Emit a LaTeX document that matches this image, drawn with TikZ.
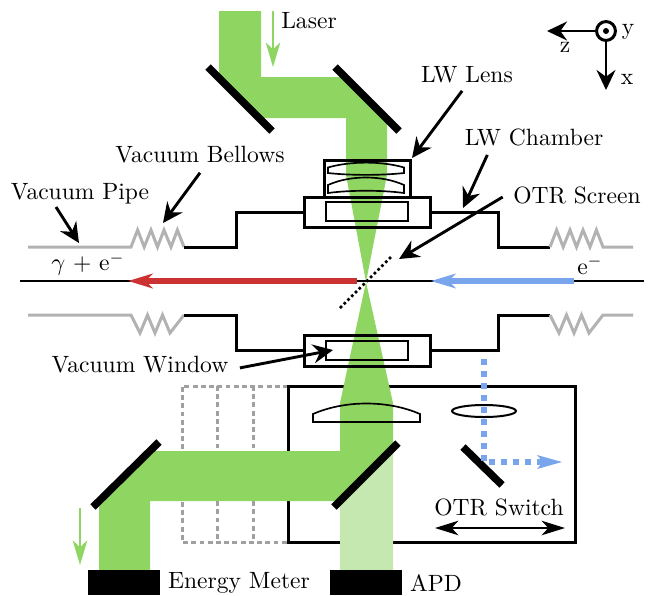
\documentclass[tikz,border=0pt]{standalone}
\usepackage{xcolor}
\usetikzlibrary{arrows.meta}
\definecolor{beam}{HTML}{8FD562}
\definecolor{beamlight}{HTML}{C5E8B0}
\definecolor{redline}{HTML}{CC3232}
\definecolor{blueline}{HTML}{78A5EC}
\definecolor{pipegray}{HTML}{B2B2B2}
\definecolor{dashgray}{HTML}{A0A0A0}
\tikzset{
  wall/.style={line width=1.35pt},
  thin wall/.style={line width=0.75pt},
  pipe/.style={line width=1.35pt, pipegray},
  ghost/.style={line width=1.35pt, dashgray, dash pattern=on 2.2pt off 1.5pt},
  mirror/.style={line width=3.4pt},
  label/.style={inner sep=1pt, font=\fontsize{10.6}{12}\selectfont},
  pointer/.style={line width=1.3pt, -{Stealth[length=9pt,width=8.5pt,inset=3pt]}},
  flow/.style={line width=2.7pt, -{Stealth[length=11pt,width=6.5pt,inset=3pt]}},
  hint/.style={line width=1.2pt, beam, -{Stealth[length=11pt,width=6.5pt,inset=3pt]}},
  switcharrow/.style={line width=1.1pt, {Stealth[length=10.5pt,width=6.5pt,inset=3pt]}-{Stealth[length=10.5pt,width=6.5pt,inset=3pt]}},
}
\begin{document}
\begin{tikzpicture}[x=0.45pt,y=-0.45pt]
\useasboundingbox (0,0) rectangle (652,595);
% box and its old positions
\draw[ghost] (288,386) -- (182,386) -- (182,542) -- (288,542);
\draw[ghost] (217,386) -- (217,542);
\draw[ghost] (253,386) -- (253,542);
\draw[wall] (288,386) rectangle (575,542);
% beams
\fill[beam] (219,11) -- (261,11) -- (261,77) -- (345,77) -- (387,119) -- (387,175) -- (366,282)
  -- (346,175) -- (346,118) -- (259,118) -- (219,78) -- cycle;
\fill[beamlight] (340,501) -- (393,448) -- (393,570) -- (340,570) -- cycle;
\fill[beam] (366,282) -- (393,403) -- (393,448) -- (340,501) -- (150,501) -- (150,570) -- (99,570)
  -- (99,501) -- (149,451) -- (340,451) -- (340,403) -- cycle;
% beam axis
\node[label] (meterlabel) at (239,583) {Energy Meter};
\node[fill, minimum width=32.4pt, minimum height=11.2pt, inner sep=0pt] (meter) at (124,582.5) {};
\node[fill, minimum width=32.4pt, minimum height=11.2pt, inner sep=0pt] (apd) at (366,582.5) {};
\node[label] (apdlabel) at (436,583) {APD};
\coordinate (axisL) at (20,281);
\coordinate (axisR) at (644,281);
\draw[line width=0.6pt] (axisL) -- (axisR);
\coordinate (redS) at (357,281);
\coordinate (redE) at (128,281);
\coordinate (blueS) at (574,281);
\coordinate (blueE) at (431,281);
\draw[flow, redline] (redS) -- (redE);
\draw[flow, blueline] (blueS) -- (blueE);
\draw[line width=1.2pt, dash pattern=on 1.2pt off 1.2pt] (340,308) -- (392,256);
% pipe upper
\draw[pipe] (28,247) -- (131,247) -- (137.6,230) -- (144.2,247) -- (151,230) -- (157.5,247) -- (164,230) -- (171,247) -- (177.4,230) -- (184,247);
\draw[wall] (184,247) -- (236,247) -- (236,212) -- (304,212);
\draw[wall] (430,212) -- (498,212) -- (498,247) -- (550,247);
\draw[pipe] (550,247) -- (556.6,230) -- (563.2,247) -- (570,230) -- (576.5,247) -- (583,230) -- (590,247) -- (596.4,230) -- (603,247) -- (633,247);
% pipe lower
\draw[pipe] (28,315) -- (131,315) -- (140,333) -- (147.5,315) -- (155,333) -- (162.5,315) -- (170,333) -- (177,324) -- (184,315);
\draw[wall] (184,315) -- (236,315) -- (236,350) -- (304,350);
\draw[wall] (430,350) -- (498,350) -- (498,315) -- (550,315);
\draw[pipe] (550,315) -- (559,333) -- (566.5,315) -- (574,333) -- (581.5,315) -- (589,333) -- (603,315) -- (633,315);
% chambers
\draw[wall] (304,197) rectangle (430,227);
\draw[thin wall] (326,202) rectangle (408,221);
\draw[wall] (304,335) rectangle (430,366);
\draw[thin wall] (326,341) rectangle (408,360);
% lens mount
\draw[wall] (324,197) -- (324,160) -- (410,160) -- (410,197);
\draw[thin wall] (328,167.5) .. controls (350,161) and (382,161) .. (404,167.5) -- (404,173) .. controls (382,175.5) and (350,175.5) .. (328,173) -- cycle;
\draw[thin wall] (328,185) .. controls (350,175) and (382,175) .. (404,185) -- (404,193) .. controls (382,190) and (350,190) .. (328,193) -- cycle;
% lower lens
\draw[thin wall] (313,414) .. controls (345,400) and (388,400) .. (420,414) -- (420,422) -- (313,422) -- cycle;
\draw[line width=0.9pt] (484,411) ellipse (32 and 6);
% mirrors
\draw[mirror] (208,67) -- (272,131);
\draw[mirror] (335,67) -- (399,131);
\draw[mirror] (93,507) -- (159,442);
\draw[mirror] (334,507) -- (398,443);
\draw[mirror] (463,447) -- (502,485);
% OTR light
\coordinate (otrA) at (484,359);
\coordinate (otrB) at (484,462);
\coordinate (otrC) at (545,462);
\draw[line width=2.7pt, blueline, dash pattern=on 2.7pt off 2.7pt] (otrA) -- (otrB) -- (otrC);
\fill[blueline] (562,462) -- (537,455) -- (543,462) -- (537,469) -- cycle;
% green hints
\coordinate (hintA) at (273,11);
\coordinate (hintB) at (273,67);
\coordinate (hintC) at (80,508);
\coordinate (hintD) at (80,565);
\draw[hint] (hintA) -- (hintB);
\draw[hint] (hintC) -- (hintD);
% labels
\node[label] (laserlabel) at (309,21) {Laser};
\node[label] (lenslabel) at (467,75) {LW Lens};
\node[label] (chamberlabel) at (534,137) {LW Chamber};
\node[label] (otrlabel) at (577,195) {OTR Screen};
\node[label] (bellowslabel) at (200,155) {Vacuum Bellows};
\node[label] (pipelabel) at (80,194) {Vacuum Pipe};
\node[label] (windowlabel) at (140,365) {Vacuum Window};
\node[label] (gammalabel) at (88,264) {$\gamma$ + e$^-$};
\node[label] (eminus) at (590,265) {e$^-$};
\node[label] (switchlabel) at (499,507) {OTR Switch};
% pointers
\coordinate (lenstip) at (412,158);
\coordinate (chambertip) at (463,208);
\coordinate (otrtip) at (399,259);
\coordinate (bellowstip) at (163,223);
\coordinate (pipetip) at (79,243);
\coordinate (windowtip) at (333,350);
\draw[pointer] ([xshift=-2.2pt,yshift=-2.2pt]lenslabel.south) -- (lenstip);
\draw[pointer] ([xshift=-21pt,yshift=-3pt]chamberlabel.south) -- (chambertip);
\draw[pointer] ([xshift=-3.6pt,yshift=-0.9pt]otrlabel.west) -- (otrtip);
\draw[pointer] ([yshift=-3pt]bellowslabel.south) -- (bellowstip);
\draw[pointer] ([xshift=-10.8pt]pipelabel.south) -- (pipetip);
\draw[pointer] ([xshift=4pt,yshift=-1.3pt]windowlabel.east) -- (windowtip);
\coordinate (switchL) at (435,528);
\coordinate (switchR) at (565,528);
\draw[switcharrow] (switchL) -- (switchR);
% axes
\node[draw, circle, line width=1.35pt, minimum size=8.5pt, inner sep=0pt] (yaxis) at (606,31) {};
\fill (yaxis.center) circle (3);
\coordinate (ztip) at (547,31);
\coordinate (xtip) at (606,90);
\draw[pointer] (yaxis) -- (ztip);
\draw[pointer] (yaxis) -- (xtip);
\node[label] (ylabel) at (628,32) {y};
\node[label] (zlabel) at (565,47) {z};
\node[label] (xlabel) at (627,79) {x};
\end{tikzpicture}
\end{document}
